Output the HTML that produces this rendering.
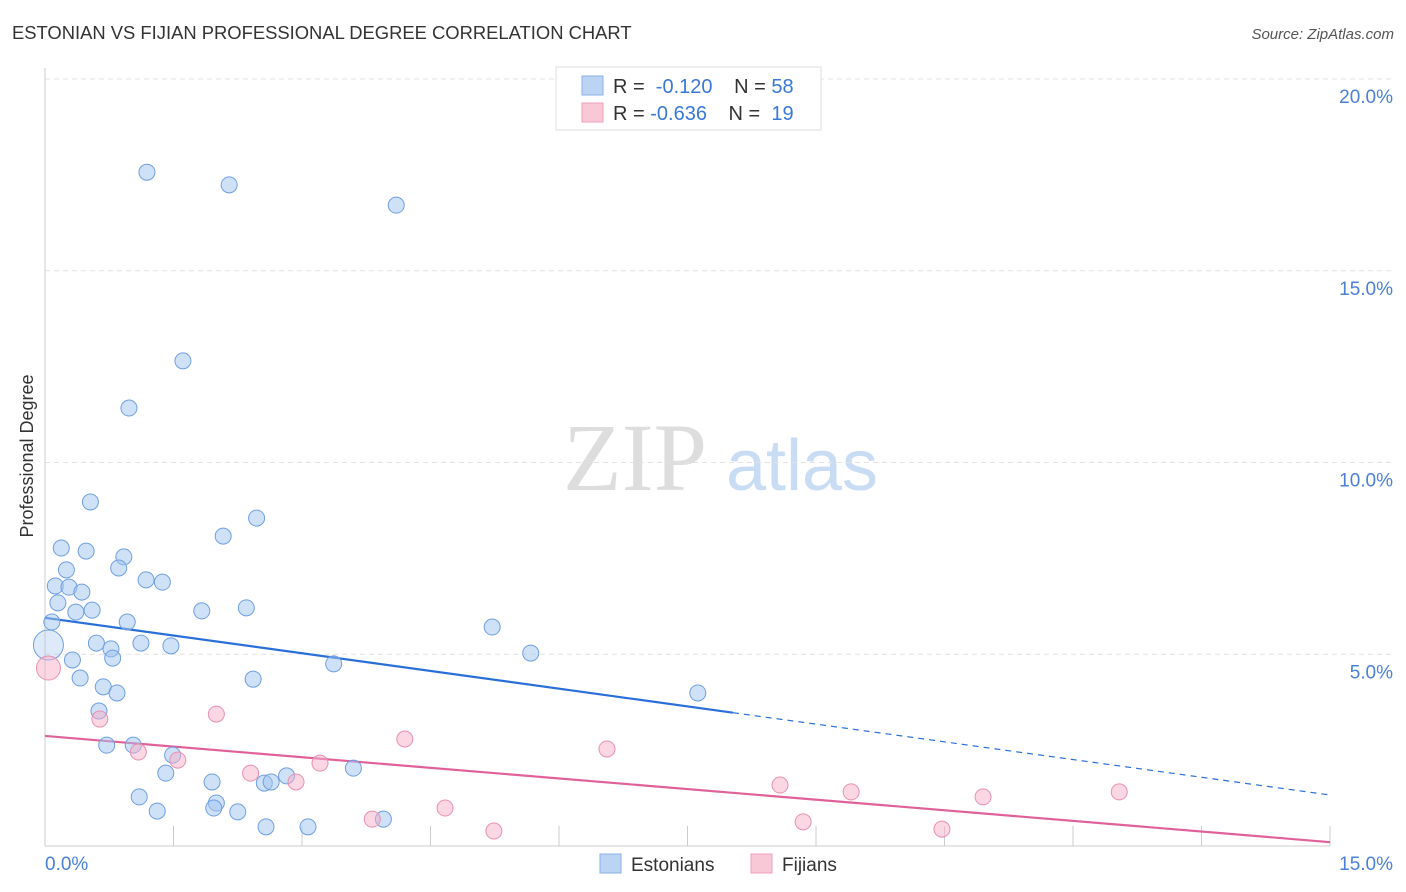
<!DOCTYPE html>
<html><head><meta charset="utf-8"><style>
body{margin:0;width:1406px;height:892px;background:#fff;font-family:"Liberation Sans",sans-serif;overflow:hidden}
svg{position:absolute;left:0;top:0}
</style></head><body>
<svg id="chart" width="1406" height="892">
<text x="12" y="39" font-size="18.4" fill="#333">ESTONIAN VS FIJIAN PROFESSIONAL DEGREE CORRELATION CHART</text>
<text x="1394" y="39" font-size="15" fill="#555" font-style="italic" text-anchor="end">Source: ZipAtlas.com</text>
<text x="33" y="456" font-size="18" fill="#333" text-anchor="middle" transform="rotate(-90 33 456)">Professional Degree</text>
<g><text x="635" y="490" font-size="96" fill="#ddd" font-family="Liberation Serif,serif" text-anchor="middle">ZIP</text><text x="802" y="490" font-size="72" fill="#c8dcf4" text-anchor="middle">atlas</text></g>
<g id="grid"></g><g id="axes"></g><g id="lines"></g><g id="pts"></g>
<g>
<rect x="556" y="67" width="265" height="63" fill="#fff" stroke="#ddd"/>
<rect x="582" y="76" width="21" height="19" fill="#bcd4f4" stroke="#8ab0e8"/>
<rect x="582" y="103" width="21" height="19" fill="#f9c8d6" stroke="#eea0b8"/>
<text x="613" y="93" font-size="20" fill="#333">R = <tspan fill="#3a78d8">&#160;-0.120</tspan>   <tspan dx="16">N = </tspan><tspan fill="#3a78d8">58</tspan></text>
<text x="613" y="120" font-size="20" fill="#333">R = <tspan fill="#3a78d8">-0.636</tspan>   <tspan dx="16">N = </tspan><tspan fill="#3a78d8">&#160;19</tspan></text>
</g>
<g>
<rect x="600" y="854" width="21" height="19" fill="#bcd4f4" stroke="#8ab0e8"/>
<text x="631" y="871" font-size="19" fill="#333">Estonians</text>
<rect x="751" y="854" width="21" height="19" fill="#f9c8d6" stroke="#eea0b8"/>
<text x="782" y="871" font-size="19" fill="#333">Fijians</text>
</g>
</svg>
<script>
const yTicks=[5,10,15,20];
const yTickLabels=["5.0%","10.0%","15.0%","20.0%"];
const xTickLabels=["0.0%","15.0%"];
const estX=[1.19,2.15,4.10,1.61,0.98,0.53,2.47,0.19,0.48,2.08,0.92,0.86,0.25,1.18,1.37,0.12,0.28,0.43,0.15,0.55,0.36,1.83,2.35,0.08,0.96,5.22,0.60,1.12,1.47,0.77,0.04,0.79,0.32,5.67,3.37,0.41,2.43,0.68,0.84,7.62,0.63,0.72,1.03,1.49,1.41,3.60,1.95,2.82,2.56,2.64,1.10,2.00,1.31,1.97,2.25,2.58,3.07,3.95];
const estY=[17.57,17.24,16.71,12.65,11.42,8.97,8.55,7.77,7.69,8.08,7.54,7.25,7.20,6.94,6.88,6.78,6.75,6.62,6.34,6.15,6.10,6.13,6.21,5.84,5.84,5.71,5.29,5.29,5.22,5.14,5.24,4.90,4.85,5.03,4.75,4.38,4.35,4.15,3.99,3.99,3.52,2.63,2.63,2.37,1.90,2.03,1.67,1.83,1.64,1.67,1.28,1.12,0.91,0.99,0.89,0.50,0.50,0.70];
const fijX=[0.04,0.64,2.00,1.09,1.55,4.20,6.56,2.40,3.21,2.93,8.58,9.41,10.95,12.54,4.67,3.82,8.85,5.24,10.47];
const fijY=[4.64,3.31,3.44,2.45,2.24,2.79,2.53,1.90,2.16,1.67,1.59,1.41,1.28,1.41,0.99,0.70,0.63,0.39,0.44];
const estTrend=[5.95,1.33], estSolidEnd=8.03;
const fijTrend=[2.87,0.10];
const NS="http://www.w3.org/2000/svg";
const X=v=>45+v*(1285/15), Y=v=>846-v*38.35;
function mk(p,t,a){const e=document.createElementNS(NS,t);for(const k in a)e.setAttribute(k,a[k]);document.getElementById(p).appendChild(e);return e;}
yTicks.forEach((t,i)=>{
 const g=mk('grid','line',{x1:45,x2:1394,y1:Y(t),y2:Y(t),stroke:'#e2e2e2','stroke-dasharray':'5,4'});
 
 
 const l=mk('axes','text',{x:1393,y:Y(t)+24,'font-size':19,fill:'#4a80d8','text-anchor':'end'});l.textContent=yTickLabels[i];
 
 
});
mk('axes','line',{x1:45,x2:45,y1:68,y2:846,stroke:'#ccc'});
mk('axes','line',{x1:45,x2:1330,y1:846,y2:846,stroke:'#ccc'});
for(let i=1;i<=10;i++){const t=mk('axes','line',{x1:X(i*1.5),x2:X(i*1.5),y1:826,y2:846,stroke:'#ccc'});
 
 }
[[0,45,'start'],[15,1393,'end']].forEach((d,i)=>{const l=mk('axes','text',{x:d[1],y:870,'font-size':19,fill:'#4a80d8','text-anchor':d[2]});l.textContent=xTickLabels[i];
 
 });
const ln=(a,b,x0,x1,c,dash)=>{const e=mk('lines','line',{x1:X(x0),x2:X(x1),y1:Y(a+(b-a)*x0/15),y2:Y(a+(b-a)*x1/15),stroke:c,'stroke-width':dash?1.2:2.2});if(dash)e.setAttribute('stroke-dasharray','6,5');return e;};
let e=ln(estTrend[0],estTrend[1],0,estSolidEnd,'#2a6fd8');


e=ln(estTrend[0],estTrend[1],estSolidEnd,15,'#2a6fd8',1);


e=ln(fijTrend[0],fijTrend[1],0,15,'#e0609a');


estX.forEach((x,i)=>{const c=mk('pts','circle',{cx:X(x),cy:Y(estY[i]),r:i==30?15:8,fill:i==30?'rgba(160,195,240,0.35)':'rgba(160,195,240,0.5)',stroke:'#6f9fe0','stroke-width':1});
 
 });
fijX.forEach((x,i)=>{const c=mk('pts','circle',{cx:X(x),cy:Y(fijY[i]),r:i==0?12:8,fill:'rgba(245,175,200,0.5)',stroke:'#e890b0','stroke-width':1});
 
 });
</script>
</body></html>
